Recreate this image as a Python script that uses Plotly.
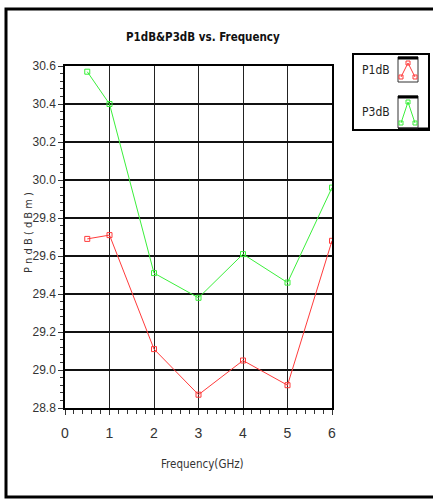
import plotly.graph_objects as go

# Measured output power vs. frequency
freq_ghz = [0.5, 1, 2, 3, 4, 5, 6]
p1db = [29.69, 29.71, 29.11, 28.87, 29.05, 28.92, 29.68]
p3db = [30.57, 30.40, 29.51, 29.38, 29.61, 29.46, 29.96]
series_names = ["P1dB", "P3dB"]
series_colors = ["#ff3b3b", "#3bef3b"]

y_ticks = [28.8, 29.0, 29.2, 29.4, 29.6, 29.8, 30.0, 30.2, 30.4, 30.6]
x_ticks = [0, 1, 2, 3, 4, 5, 6]

W, H = 433, 500
COND = "DejaVu Sans Condensed, Liberation Sans, sans-serif"
TICK = "Liberation Sans, Arial, sans-serif"


def px(x):
    return x / W


def py(y):
    return 1 - y / H


fig = go.Figure()
for name, vals, col in zip(series_names, [p1db, p3db], series_colors):
    fig.add_trace(go.Scatter(
        x=freq_ghz, y=vals, name=name, mode="lines+markers",
        line=dict(color=col, width=1),
        marker=dict(symbol="square-open", size=5, color=col, line=dict(width=1)),
        showlegend=False,
    ))

axis_common = dict(
    showline=True, linecolor="black", linewidth=1.5, mirror=True,
    ticks="outside", tickcolor="#333", ticklen=5, tickwidth=1,
    zeroline=False, automargin=False,
)

fig.update_xaxes(
    range=[0, 6], tickvals=x_ticks, domain=[px(65), px(332)],
    showgrid=True, gridcolor="#222", gridwidth=1.2,
    tickfont=dict(family=TICK, size=14, color="#333"),
    ticklabelstandoff=6,
    minor=dict(dtick=0.2, ticks="outside", ticklen=4, tickcolor="#333", showgrid=False),
    **axis_common,
)
fig.update_yaxes(
    range=[28.8, 30.6], tickvals=y_ticks, tickformat=".1f",
    domain=[py(408), py(66)],
    showgrid=True, gridcolor="#111", gridwidth=2,
    tickfont=dict(family=TICK, size=12, color="#333"),
    minor=dict(dtick=0.04, ticks="outside", ticklen=3, tickcolor="#333", showgrid=False),
    **axis_common,
)

shapes = []
annotations = []

# Outer frame
shapes.append(dict(type="rect", xref="paper", yref="paper",
                   x0=px(6), x1=px(460), y0=py(497), y1=py(9),
                   line=dict(color="black", width=3)))

# Title and axis titles
annotations.append(dict(text="<b>P1dB&P3dB vs. Frequency</b>", xref="paper", yref="paper",
                        x=px(203), y=py(37), xanchor="center", yanchor="middle", showarrow=False,
                        font=dict(family=COND, size=11.5, color="#111")))
annotations.append(dict(text="Frequency(GHz)", xref="paper", yref="paper",
                        x=px(202), y=py(464), xanchor="center", yanchor="middle", showarrow=False,
                        font=dict(family=COND, size=11.5, color="#333")))
annotations.append(dict(text="P n d B ( d B m )", xref="paper", yref="paper",
                        x=px(29), y=py(233), xanchor="center", yanchor="middle",
                        showarrow=False, textangle=-90,
                        font=dict(family=COND, size=11, color="#333")))

# Legend box with a caret icon per series
shapes.append(dict(type="rect", xref="paper", yref="paper",
                   x0=px(353), x1=px(429), y0=py(130), y1=py(54),
                   line=dict(color="black", width=2), fillcolor="white"))
shapes.append(dict(type="line", xref="paper", yref="paper",
                   x0=px(398), x1=px(429), y0=py(129), y1=py(129),
                   line=dict(color="black", width=3)))
icon_rows = [(57, 82), (96, 128)]
for (top, bot), name, col in zip(icon_rows, series_names, series_colors):
    shapes.append(dict(type="rect", xref="paper", yref="paper",
                       x0=px(398), x1=px(418), y0=py(bot), y1=py(top),
                       line=dict(color="#333", width=1)))
    shapes.append(dict(type="line", xref="paper", yref="paper",
                       x0=px(398), x1=px(418), y0=py(top + 1), y1=py(top + 1),
                       line=dict(color="black", width=3)))
    cx = [401, 408, 415]
    cy = [bot - 5, top + 6, bot - 5]
    path = "M {} {} L {} {} L {} {}".format(px(cx[0]), py(cy[0]), px(cx[1]), py(cy[1]),
                                             px(cx[2]), py(cy[2]))
    shapes.append(dict(type="path", xref="paper", yref="paper", path=path,
                       line=dict(color=col, width=1)))
    for x_, y_ in zip(cx, cy):
        shapes.append(dict(type="rect", xref="paper", yref="paper",
                           x0=px(x_ - 2), x1=px(x_ + 2), y0=py(y_ + 2), y1=py(y_ - 2),
                           line=dict(color=col, width=1)))
    annotations.append(dict(text=name, xref="paper", yref="paper",
                            x=px(376), y=py((top + bot) / 2), xanchor="center", yanchor="middle",
                            showarrow=False,
                            font=dict(family=COND, size=12, color="#222")))

fig.update_layout(
    width=W, height=H,
    margin=dict(l=0, r=0, t=0, b=0),
    paper_bgcolor="white", plot_bgcolor="white",
    shapes=shapes, annotations=annotations,
    showlegend=False,
)

fig.write_html("out.html")
